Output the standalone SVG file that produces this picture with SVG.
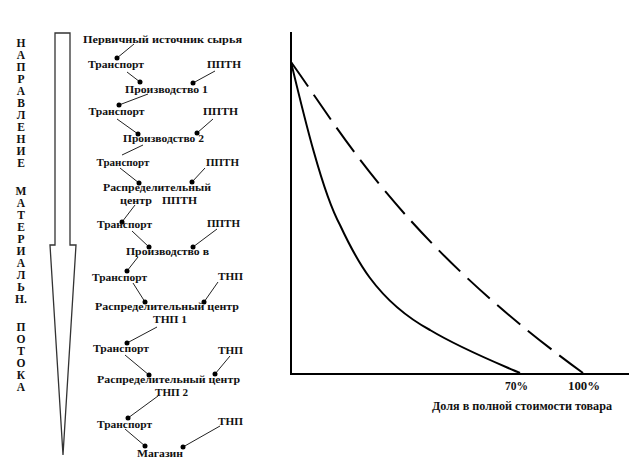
<svg xmlns="http://www.w3.org/2000/svg" width="629" height="475" viewBox="0 0 629 475">
<defs>
<style>
text{font-family:"Liberation Serif","Times New Roman",serif;font-weight:bold;fill:#111;}
.n{font-size:11px;text-anchor:middle;}
.v{font-size:11.5px;text-anchor:middle;}
.ax{font-size:11.5px;text-anchor:middle;}
.c{stroke:#222;stroke-width:1;fill:none;}
.dot{fill:#000;}
.axis{stroke:#000;stroke-width:2;fill:none;}
.curve{stroke:#000;stroke-width:2;fill:none;}
.dash{stroke:#000;stroke-width:2;fill:none;stroke-dasharray:30 10;}
</style>
</defs>
<rect width="629" height="475" fill="#fff"/>

<g id="direction-label">
<text class="v" x="21" y="47">Н</text>
<text class="v" x="21" y="59">А</text>
<text class="v" x="21" y="71">П</text>
<text class="v" x="21" y="83">Р</text>
<text class="v" x="21" y="95">А</text>
<text class="v" x="21" y="107">В</text>
<text class="v" x="21" y="119">Л</text>
<text class="v" x="21" y="131">Е</text>
<text class="v" x="21" y="143">Н</text>
<text class="v" x="21" y="155">И</text>
<text class="v" x="21" y="167">Е</text>
<text class="v" x="21" y="195">М</text>
<text class="v" x="21" y="207">А</text>
<text class="v" x="21" y="219">Т</text>
<text class="v" x="21" y="231">Е</text>
<text class="v" x="21" y="243">Р</text>
<text class="v" x="21" y="255">И</text>
<text class="v" x="21" y="267">А</text>
<text class="v" x="21" y="279">Л</text>
<text class="v" x="21" y="291">Ь</text>
<text class="v" x="21" y="303">Н.</text>
<text class="v" x="21" y="331">П</text>
<text class="v" x="21" y="343">О</text>
<text class="v" x="21" y="355">Т</text>
<text class="v" x="21" y="367">О</text>
<text class="v" x="21" y="379">К</text>
<text class="v" x="21" y="391">А</text>
</g>

<g id="flow-arrow">
<path d="M55,33 H70 V245 H76 L63,455 L50,245 H55 Z" fill="none" stroke="#333" stroke-width="1.3"/>
</g>

<g id="connectors">
<path class="c" d="M134,44 L117,58"/><circle class="dot" cx="117" cy="58" r="2.5"/>
<path class="c" d="M127,72 L140,82"/><circle class="dot" cx="140" cy="82" r="2.5"/>
<path class="c" d="M215,71 L193,83"/><circle class="dot" cx="193" cy="83" r="2.5"/>
<path class="c" d="M148,94 L119,105"/><circle class="dot" cx="119" cy="105" r="2.5"/>
<path class="c" d="M117,119 L138,134"/><circle class="dot" cx="138" cy="134" r="2.5"/>
<path class="c" d="M213,119 L197,133"/><circle class="dot" cx="197" cy="133" r="2.5"/>
<path class="c" d="M143,145 L122,155"/>
<path class="c" d="M120,168 L139,183"/><circle class="dot" cx="139" cy="183" r="2.5"/>
<path class="c" d="M205,168 L192,182"/><circle class="dot" cx="192" cy="182" r="2.5"/>
<path class="c" d="M135,205 L122,222"/><circle class="dot" cx="122" cy="222" r="2.5"/>
<path class="c" d="M132,231 L149,247"/><circle class="dot" cx="149" cy="247" r="2.5"/>
<path class="c" d="M217,229 L193,247"/><circle class="dot" cx="193" cy="247" r="2.5"/>
<path class="c" d="M138,257 L127,271"/><circle class="dot" cx="127" cy="271" r="2.5"/>
<path class="c" d="M133,283 L145,302"/><circle class="dot" cx="145" cy="302" r="2.5"/>
<path class="c" d="M218,282 L204,302"/><circle class="dot" cx="204" cy="302" r="2.5"/>
<path class="c" d="M157,327 L127,343"/><circle class="dot" cx="127" cy="343" r="2.5"/>
<path class="c" d="M125,355 L149,375"/><circle class="dot" cx="149" cy="375" r="2.5"/>
<path class="c" d="M230,356 L215,374"/><circle class="dot" cx="215" cy="374" r="2.5"/>
<path class="c" d="M158,396 L128,418"/><circle class="dot" cx="128" cy="418" r="2.5"/>
<path class="c" d="M125,429 L145,446"/><circle class="dot" cx="145" cy="446" r="2.5"/>
<path class="c" d="M220,426 L183,447"/><circle class="dot" cx="183" cy="447" r="2.5"/>
</g>

<g id="source"><text class="n" x="162.5" y="43" textLength="159" lengthAdjust="spacingAndGlyphs">Первичный источник сырья</text></g>
<g id="transport-1"><text class="n" x="116" y="68" textLength="56" lengthAdjust="spacingAndGlyphs">Транспорт</text></g>
<g id="pptn-1"><text class="n" x="224" y="68" textLength="34" lengthAdjust="spacingAndGlyphs">ППТН</text></g>
<g id="production-1"><text class="n" x="166.5" y="93" textLength="83" lengthAdjust="spacingAndGlyphs">Производство 1</text></g>
<g id="transport-2"><text class="n" x="116.5" y="115" textLength="56" lengthAdjust="spacingAndGlyphs">Транспорт</text></g>
<g id="pptn-2"><text class="n" x="220.5" y="115" textLength="35" lengthAdjust="spacingAndGlyphs">ППТН</text></g>
<g id="production-2"><text class="n" x="163.5" y="142" textLength="81" lengthAdjust="spacingAndGlyphs">Производство 2</text></g>
<g id="transport-3"><text class="n" x="123" y="166" textLength="53" lengthAdjust="spacingAndGlyphs">Транспорт</text></g>
<g id="pptn-3"><text class="n" x="222.5" y="166" textLength="33" lengthAdjust="spacingAndGlyphs">ППТН</text></g>
<g id="dc-pptn"><text class="n" x="157" y="191" textLength="108" lengthAdjust="spacingAndGlyphs">Распределительный</text><text class="n" x="136" y="204" textLength="32" lengthAdjust="spacingAndGlyphs">центр</text><text class="n" x="179.5" y="204" textLength="35" lengthAdjust="spacingAndGlyphs">ППТН</text></g>
<g id="transport-4"><text class="n" x="124.5" y="228" textLength="55" lengthAdjust="spacingAndGlyphs">Транспорт</text></g>
<g id="pptn-4"><text class="n" x="223.5" y="227" textLength="33" lengthAdjust="spacingAndGlyphs">ППТН</text></g>
<g id="production-n"><text class="n" x="167.5" y="255" textLength="83" lengthAdjust="spacingAndGlyphs">Производство в</text></g>
<g id="transport-5"><text class="n" x="119.5" y="281" textLength="55" lengthAdjust="spacingAndGlyphs">Транспорт</text></g>
<g id="tnp-5"><text class="n" x="230.5" y="280" textLength="25" lengthAdjust="spacingAndGlyphs">ТНП</text></g>
<g id="dc-tnp-1"><text class="n" x="167" y="310" textLength="144" lengthAdjust="spacingAndGlyphs">Распределительный центр</text><text class="n" x="170" y="323" textLength="34" lengthAdjust="spacingAndGlyphs">ТНП 1</text></g>
<g id="transport-6"><text class="n" x="121" y="352" textLength="56" lengthAdjust="spacingAndGlyphs">Транспорт</text></g>
<g id="tnp-6"><text class="n" x="230.5" y="354" textLength="25" lengthAdjust="spacingAndGlyphs">ТНП</text></g>
<g id="dc-tnp-2"><text class="n" x="168.5" y="383" textLength="143" lengthAdjust="spacingAndGlyphs">Распределительный центр</text><text class="n" x="171.5" y="396" textLength="33" lengthAdjust="spacingAndGlyphs">ТНП 2</text></g>
<g id="transport-7"><text class="n" x="124.5" y="428" textLength="55" lengthAdjust="spacingAndGlyphs">Транспорт</text></g>
<g id="tnp-7"><text class="n" x="230.5" y="425" textLength="25" lengthAdjust="spacingAndGlyphs">ТНП</text></g>
<g id="shop"><text class="n" x="160" y="457" textLength="46" lengthAdjust="spacingAndGlyphs">Магазин</text></g>

<g id="chart">
<path class="axis" d="M291,32 V374 H629"/>
<path class="curve" d="M291,62 C303,112 322,192 340,225 C354,255 375,300 430,330 C460,348 490,360 520,373"/>
<path class="dash" d="M291,62 C340,130 400,240 583,373"/>
<text class="ax" x="516.5" y="390" textLength="23" lengthAdjust="spacingAndGlyphs">70%</text>
<text class="ax" x="584" y="390" textLength="32" lengthAdjust="spacingAndGlyphs">100%</text>
<text class="ax" x="522" y="410" textLength="180" lengthAdjust="spacingAndGlyphs">Доля в полной стоимости товара</text>
</g>
</svg>
